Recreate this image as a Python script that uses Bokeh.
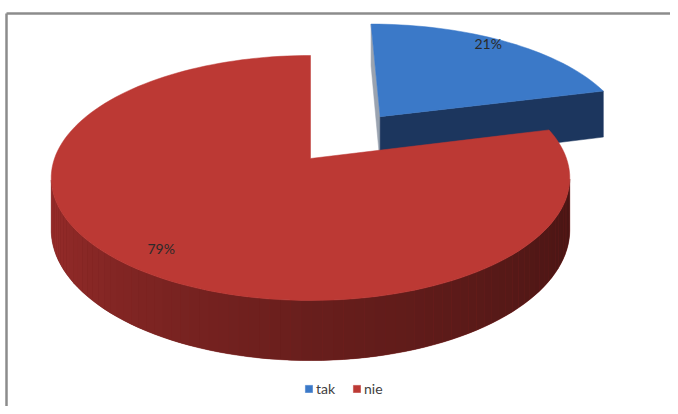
import numpy as np
from bokeh.plotting import figure
from bokeh.models import Range1d, Legend, LegendItem, ColumnDataSource
from bokeh.embed import file_html
from bokeh.resources import INLINE
from bokeh.core.properties import value

# ---- data ----
categories = ["tak", "nie"]
percents = [21, 79]
pct_labels = ["21%", "79%"]

# ---- style ----
top_colors = ["#3B79C8", "#BC3934"]
band_colors = ["#1E3E6C", "#7A2220"]
side_stops = [
    [(100, (20, 45, 85)), (180, (28, 58, 100)), (262, (40, 80, 130))],
    [(100, (70, 20, 19)), (180, (104, 30, 28)), (262, (156, 45, 43))],
]
cut_colors = ["#1C365E", "#6A1E1C"]
explode = [0.47, 0.0]
label_dy = [-8, 0]

W, H = 670, 406
p = figure(width=W, height=H, output_backend="svg", toolbar_location=None,
           x_range=Range1d(0, W), y_range=Range1d(H, 0), min_border=0,
           x_axis_location=None, y_axis_location=None)
p.grid.visible = False
p.outline_line_color = None
p.background_fill_color = "white"

# perspective projection of a pie lying on the ground
CX, CY, A, B, K, D = 310.0, 158.0, 256.0, 119.4, 0.159, 50.5
CAM = np.array([0.0, -1.0 / K])


def proj(u, v, h=0.0):
    s = 1 + K * v
    return CX + A * u / s, CY - B * v / s + h * D / s


def interp_color(stops, th):
    ths = [s[0] for s in stops]
    cols = np.array([s[1] for s in stops], dtype=float)
    c = [np.interp(th, ths, cols[:, i]) for i in range(3)]
    return "#%02x%02x%02x" % tuple(int(round(x)) for x in c)


total = float(sum(percents))
starts, ends = [], []
acc = 0.0
for v in percents:
    starts.append(acc / total * 360.0)
    acc += v
    ends.append(acc / total * 360.0)

top_renderers = []
for i in range(len(categories)):
    a0, a1 = starts[i], ends[i]
    mid = np.radians((a0 + a1) / 2)
    off = np.array([np.sin(mid), np.cos(mid)]) * explode[i]
    ths = np.linspace(a0, a1, int(max(2, (a1 - a0) / 2)) + 1)
    rim = np.array([[np.sin(np.radians(t)), np.cos(np.radians(t))] for t in ths]) + off

    # curved side: front-facing segments
    vis = []
    for j in range(len(ths) - 1):
        tm = np.radians((ths[j] + ths[j + 1]) / 2)
        n = np.array([np.sin(tm), np.cos(tm)])
        vis.append(np.dot(CAM - (n + off), n) > 0)
    idx = [j for j in range(len(vis)) if vis[j]]
    if idx:
        j0, j1 = idx[0], idx[-1] + 1
        bx = [proj(*rim[j])[0] for j in range(j0, j1 + 1)] + \
             [proj(*rim[j], 1)[0] for j in range(j1, j0 - 1, -1)]
        by = [proj(*rim[j])[1] for j in range(j0, j1 + 1)] + \
             [proj(*rim[j], 1)[1] for j in range(j1, j0 - 1, -1)]
        p.patch(bx, by, fill_color=band_colors[i], line_color=band_colors[i], line_width=0.5)
        xs, ys, cs = [], [], []
        for j in idx:
            tm = (ths[j] + ths[j + 1]) / 2
            x0, y0 = proj(*rim[j]); x1, y1 = proj(*rim[j + 1])
            x2, y2 = proj(*rim[j + 1], 1); x3, y3 = proj(*rim[j], 1)
            xs.append([x0, x1, x2, x3]); ys.append([y0, y1, y2, y3])
            cs.append(interp_color(side_stops[i], tm))
        p.patches(xs, ys, fill_color=cs, line_color=None)

    # cut faces
    faces = []
    for ang, sign in ((a0, -1), (a1, 1)):
        r = np.radians(ang)
        n = sign * np.array([np.cos(r), -np.sin(r)])
        if np.dot(CAM - off, n) > 1e-6:
            faces.append((ang, sign))
    faces.sort(key=lambda f: f[1])
    for ang, sign in faces:
        r = np.radians(ang)
        e = np.array([np.sin(r), np.cos(r)]) + off
        pts = [proj(*off), proj(*e), proj(*e, 1), proj(*off, 1)]
        col = cut_colors[i] if sign > 0 else "#9AA3B0"
        p.patch([q[0] for q in pts], [q[1] for q in pts], fill_color=col,
                line_color=col, line_width=0.5)

    # top face
    tx = [proj(*off)[0]] + [proj(*q)[0] for q in rim]
    ty = [proj(*off)[1]] + [proj(*q)[1] for q in rim]
    r = p.patch(tx, ty, fill_color=top_colors[i], line_color=top_colors[i], line_width=0.5)
    top_renderers.append(r)

# percentage labels
lx, ly = [], []
for i in range(len(categories)):
    mid = np.radians((starts[i] + ends[i]) / 2)
    d = np.array([np.sin(mid), np.cos(mid)])
    q = d * (explode[i] + 0.85)
    x, y = proj(*q)
    lx.append(x); ly.append(y + label_dy[i])
p.text(x=lx, y=ly, text=pct_labels, text_align="center", text_baseline="middle",
       text_font=value("Lato"), text_font_size="14px", text_color="#2a2a2a")

# chart area frame (top and left edges visible)
p.line([6, W], [13, 13], line_color="#8C8C8C", line_width=2.5)
p.line([6, 6], [13, H], line_color="#8C8C8C", line_width=2.5)

legend = Legend(items=[LegendItem(label=categories[i], renderers=[top_renderers[i]])
                       for i in range(len(categories))],
                orientation="horizontal", location=(304, 9),
                padding=0, margin=0, spacing=16, label_standoff=3,
                glyph_width=9, glyph_height=9, label_height=16,
                label_text_font="Lato", label_text_font_size="14px",
                label_text_color="#404040",
                border_line_color=None, background_fill_alpha=0)
p.add_layout(legend, "center")

open("out.html", "w").write(file_html(p, INLINE))
